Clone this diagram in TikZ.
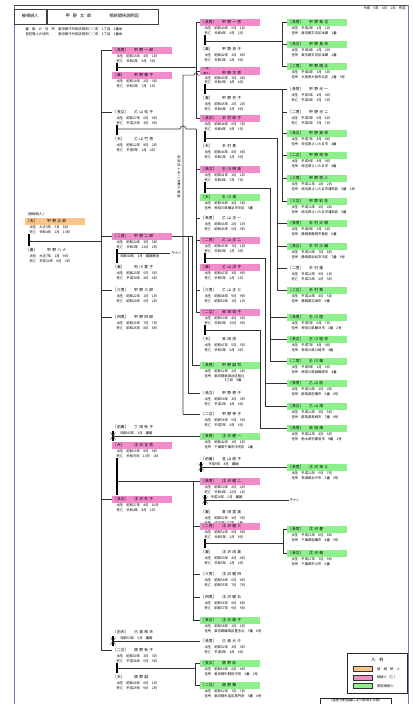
\documentclass[tikz,border=0pt]{standalone}
\usepackage{fontspec}
\setmainfont{Noto Sans CJK JP}
\usetikzlibrary{calc,positioning}
\definecolor{kzorange}{HTML}{F7C48A}
\definecolor{kzpink}{HTML}{F38BCB}
\definecolor{kzgreen}{HTML}{8DF08D}
\definecolor{kzframe}{HTML}{7474C6}
\newcommand{\kzfont}{\fontsize{3.8}{4.2}\selectfont\spaceskip=1.6pt\relax}
\newcommand{\kzsmall}{\fontsize{3.35}{4.5}\selectfont\spaceskip=3.2pt\relax}
\newcommand{\kztitlefont}{\fontsize{4.2}{5}\selectfont\spaceskip=3pt\relax}
\newcommand{\kzrole}[1]{\makebox[21pt][l]{#1}}
\tikzset{
  kzBar/.style={anchor=west, text width=58pt, minimum height=7pt, inner xsep=1pt, inner ysep=0pt, align=left, font=\kzfont},
  kzDetail/.style={anchor=north west, inner sep=0.3pt, align=left, font=\kzsmall},
  kzNote/.style={inner sep=0.3pt, font=\kzsmall},
  kzLine/.style={draw=black!80, line width=0.65pt},
  kzMarry/.style={draw=black, line width=1.5pt},
  kzTitle/.style={draw=black!75, line width=0.5pt, anchor=north west, minimum height=15pt, inner sep=1pt, font=\kztitlefont},
  kzSwatch/.style={draw=black!80, line width=0.5pt, minimum width=19pt, minimum height=5pt, inner sep=0pt, anchor=west}
}
\newcommand{\kzperson}[6]{%
  \node[kzBar, fill=#2] (#1) at (#3) {\kzrole{#4}#5};
  \node[kzDetail] (#1d) at ($(#1.south west)+(4,0.6)$) {#6};
}
\newcommand{\kzdivorce}[1]{%
  \draw[kzMarry] ($(#1)+(0,-5)$) -- ($(#1)+(0,5)$);
  \draw[kzLine, line width=0.45pt] ($(#1)+(-2.5,-3.5)$) -- ($(#1)+(2.5,3.5)$) ($(#1)+(-2.5,3.5)$) -- ($(#1)+(2.5,-3.5)$);
}

\begin{document}
\begin{tikzpicture}[x=1pt, y=-1pt]
  \useasboundingbox (0,0) rectangle (414,704);
  % frame and heading
  \draw[kzframe, line width=0.9pt] (14,708) -- (14,5) -- (408,5) -- (408,708);
  \draw[black!70, line width=0.6pt] (14,5) -- (408,5);
  \node[kzNote, anchor=east] (page) at (406,8.6) {令和 5年 4月 1日 作成};
  \node[kzTitle, minimum width=32pt] (ttlA) at (14,8.5) {被相続人};
  \node[kzTitle, minimum width=111pt] (ttlB) at (ttlA.north east) {甲 野 太 郎 \hspace{12pt} 相続関係説明図};
  \node[kzNote, anchor=west] (addrA) at (25,29.5) {\makebox[27pt][s]{最 後 の 住 所}\hspace{6pt}東京都千代田区神田○○町 1丁目 2番地};
  \node[kzNote, anchor=west] (addrB) at (25,34) {\makebox[27pt][s]{登記簿上の住所}\hspace{6pt}東京都千代田区神田○○町 1丁目 2番地};

  % trunks
  \coordinate (tA) at (101,0);
  \coordinate (tC1) at (196,0);
  \coordinate (tC3) at (193,0);
  \coordinate (tC4) at (195,0);
  \coordinate (tE1) at (183,0);
  \coordinate (tE2) at (188,0);
  \coordinate (tE3) at (192,0);
  \coordinate (tD1) at (282,0);
  \coordinate (tD3) at (277,0);
  \coordinate (tD4) at (270,0);
  \coordinate (tD5) at (265,0);
  \coordinate (tD6) at (260,0);
  \coordinate (tD7) at (283,0);
  % marriage points
  \coordinate (mA) at (29,241);
  \coordinate (mB1) at (117,67);
  \coordinate (mB2) at (117,129);
  \coordinate (mB3) at (117,253);
  \coordinate (mB7) at (117,481);
  \coordinate (mB9) at (117,668);
  \coordinate (mC1) at (205,41);
  \coordinate (mC2) at (205,89);
  \coordinate (mC3) at (205,138);
  \coordinate (mC4) at (205,188);
  \coordinate (mC6) at (205,258);
  \coordinate (mC8) at (205,330);
  \coordinate (mC15) at (205,543);
  \coordinate (xB6) at (113,436);
  \coordinate (xB8) at (113,641);
  \coordinate (xC13) at (201,467);
  \coordinate (xC14) at (205,500);

  % decedent
  \node[kzNote, anchor=west] (hLabel) at (25,214.5) {［被相続人］};
  \kzperson{a}{kzorange}{25,221}{［夫］}{甲 野 太 郎}{出生 大正3年 5月 8日\\死亡 令和4年 2月 10日}
  \kzperson{as}{none}{25,250}{［妻］}{甲 野 ハ ナ}{出生 大正7年 1月 9日\\死亡 平成20年 6月 3日}

  % children
  \kzperson{b1}{kzpink}{112,50}{［長男］}{甲 野 一 郎}{出生 昭和15年 4月 1日\\死亡 令和2年 9月 5日}
  \kzperson{b1s}{kzpink}{112,75}{［妻］}{甲 野 春 子}{出生 昭和18年 2月 3日\\死亡 令和3年 7月 1日}
  \kzperson{b2}{none}{112,112}{［長女］}{乙 山 松 子}{出生 昭和17年 6月 6日\\死亡 平成25年 3月 9日}
  \kzperson{b2s}{none}{112,139}{［夫］}{乙 山 竹 男}{出生 昭和12年 8月 2日\\死亡 平成9年 1月 4日}
  \kzperson{b3}{kzpink}{112,236}{［二男］}{甲 野 二 郎}{出生 昭和20年 3月 3日\\死亡 令和3年 11月 2日}
  \kzperson{b3s}{none}{112,267}{［妻］}{丙 川 夏 子}{出生 昭和23年 5月 5日\\死亡 平成30年 4月 4日}
  \kzperson{b4}{none}{112,290}{［三男］}{甲 野 三 郎}{出生 昭和22年 1月 1日\\死亡 昭和24年 2月 2日}
  \kzperson{b5}{none}{112,317}{［四男］}{甲 野 四 郎}{出生 昭和25年 7月 7日\\死亡 昭和26年 8月 8日}
  \node[kzBar] (b6p) at (112,427) {\kzrole{［前妻］}丁 田 秋 子};
  \kzperson{b6}{kzpink}{112,445}{［夫］}{戊 沢 正 男}{出生 昭和19年 9月 9日\\死亡 令和元年 10月 1日}
  \kzperson{b7}{kzpink}{112,499}{［長女］}{戊 沢 冬 子}{出生 昭和27年 4月 10日\\死亡 令和4年 8月 1日}
  \node[kzBar] (b8p) at (112,632) {\kzrole{［前夫］}己 島 和 夫};
  \kzperson{b9}{none}{112,650}{［二女］}{庚 野 秋 子}{出生 昭和30年 3月 3日\\死亡 平成28年 5月 5日}
  \kzperson{b9s}{none}{112,677}{［夫］}{庚 野 誠}{出生 昭和28年 6月 1日\\死亡 平成29年 9月 2日}

  % grandchildren
  \kzperson{c1}{kzpink}{200,22}{［長男］}{甲 野 一 男}{出生 昭和40年 5月 1日\\死亡 令和4年 6月 2日}
  \kzperson{c1s}{none}{200,49}{［妻］}{甲 野 良 子}{出生 昭和42年 1月 8日\\死亡 令和3年 2月 9日}
  \kzperson{c2}{kzpink}{200,71}{{\fontsize{2.5}{2.8}\selectfont\shortstack[l]{［二男］\\［養子］}}}{甲 野 次 男}{出生 昭和43年 3月 4日\\死亡 令和4年 4月 4日}
  \kzperson{c2s}{none}{200,98}{［妻］}{甲 野 京 子}{出生 昭和45年 2月 2日\\死亡 令和4年 5月 6日}
  \kzperson{c3}{kzpink}{200,118}{［長女］}{辛 村 和 子}{出生 昭和46年 6月 7日\\死亡 令和4年 9月 1日}
  \kzperson{c3s}{none}{200,146}{［夫］}{辛 村 勇}{出生 昭和44年 8月 8日\\死亡 令和2年 3月 3日}
  \kzperson{c4}{kzpink}{200,169}{［長女］}{壬 川 明 美}{出生 昭和41年 1月 2日\\死亡 令和4年 7月 7日}
  \kzperson{c4s}{kzgreen}{200,197}{［夫］}{壬 川 清}{出生 昭和38年 4月 5日\\住所 神奈川県横浜市中区 3番}
  \kzperson{c5}{none}{200,218}{［長男］}{乙 山 正 一}{出生 昭和43年 2月 1日\\死亡 昭和45年 5月 5日}
  \kzperson{c6}{kzpink}{200,240}{［二男］}{乙 山 正 二}{出生 昭和45年 7月 1日\\死亡 令和4年 1月 3日}
  \kzperson{c6s}{kzpink}{200,267}{［妻］}{乙 山 洋 子}{出生 昭和47年 3月 9日\\死亡 令和5年 2月 1日}
  \kzperson{c7}{none}{200,290}{［三男］}{乙 山 正 三}{出生 昭和48年 9月 9日\\死亡 昭和50年 1月 1日}
  \kzperson{c8}{kzpink}{200,312}{［二女］}{癸 田 信 子}{出生 昭和50年 4月 4日\\死亡 令和4年 10月 9日}
  \kzperson{c8s}{none}{200,339}{［夫］}{癸 田 茂}{出生 昭和47年 5月 5日\\死亡 令和3年 6月 6日}
  \kzperson{c9}{kzgreen}{200,365}{［長男］}{甲 野 誠 司}{出生 昭和52年 2月 2日\\住所 東京都世田谷区桜丘\\\hspace{20pt}3丁目 5番}
  \kzperson{c10}{none}{200,393}{［長女］}{甲 野 恵 子}{出生 昭和54年 3月 3日\\死亡 平成2年 4月 4日}
  \kzperson{c11}{none}{200,414}{［二女］}{甲 野 幸 子}{出生 昭和56年 5月 5日\\死亡 平成5年 6月 6日}
  \kzperson{c12}{kzgreen}{200,436}{［長男］}{戊 沢 健 一}{出生 昭和42年 1月 1日\\住所 千葉県千葉市中央区 2番}
  \node[kzBar] (c13) at (200,459) {\kzrole{［前妻］}丑 山 直 子};
  \kzperson{c14}{kzpink}{200,481}{［長男］}{戊 沢 健 二}{出生 昭和50年 2月 2日\\死亡 令和4年 12月 1日}
  \kzperson{c14s}{none}{200,512}{［妻］}{寅 田 里 美}{出生 昭和52年 3月 3日\\住所 埼玉県川口市 1番}
  \kzperson{c15}{kzpink}{200,526}{［二男］}{戊 沢 健 三}{出生 昭和52年 9月 9日\\死亡 令和5年 1月 8日}
  \kzperson{c15s}{none}{200,552}{［妻］}{戊 沢 由 美}{出生 昭和53年 4月 4日\\死亡 令和5年 2月 2日}
  \kzperson{c16}{none}{200,574}{［三男］}{戊 沢 健 四}{出生 昭和54年 6月 6日\\死亡 昭和55年 7月 7日}
  \kzperson{c17}{none}{200,597}{［四男］}{戊 沢 健 五}{出生 昭和56年 8月 8日\\死亡 昭和57年 9月 9日}
  \kzperson{c18}{kzgreen}{200,620}{［長女］}{戊 沢 綾 子}{出生 昭和58年 1月 1日\\住所 東京都練馬区豊玉北 7番 8号}
  \kzperson{c19}{none}{200,641}{［長男］}{己 島 大 介}{出生 昭和52年 3月 3日\\死亡 平成8年 4月 4日}
  \kzperson{c20}{kzgreen}{200,663}{［長女］}{庚 野 彩}{出生 昭和60年 6月 6日\\住所 東京都中野区中央 1番 2号}
  \kzperson{c21}{kzgreen}{200,685}{［二女］}{庚 野 舞}{出生 昭和62年 7月 7日\\住所 東京都杉並区高円寺 3番 4号}

  % great-grandchildren
  \kzperson{d1}{kzgreen}{287,22}{［長男］}{甲 野 拓 也}{出生 平成2年 1月 1日\\住所 東京都文京区本郷 1番}
  \kzperson{d2}{kzgreen}{287,44}{［長女］}{甲 野 真 央}{出生 平成4年 2月 2日\\住所 東京都文京区本郷 1番}
  \kzperson{d3}{kzgreen}{287,66}{［二男］}{甲 野 翔 太}{出生 平成6年 3月 3日\\住所 大阪府大阪市北区 2番 3号}
  \kzperson{d4}{none}{287,89}{［長男］}{甲 野 光 一}{出生 平成3年 4月 4日\\死亡 平成4年 5月 5日}
  \kzperson{d5}{none}{287,112}{［二男］}{甲 野 光 二}{出生 平成5年 6月 6日\\死亡 平成6年 7月 7日}
  \kzperson{d6}{kzgreen}{287,133}{［長女］}{甲 野 美 咲}{出生 平成7年 8月 8日\\住所 埼玉県さいたま市 4番}
  \kzperson{d7}{kzgreen}{287,155}{［二女］}{甲 野 玲 奈}{出生 平成9年 9月 9日\\住所 埼玉県さいたま市 4番}
  \kzperson{d8}{kzgreen}{287,178}{［三男］}{甲 野 悠 人}{出生 平成11年 1月 2日\\住所 埼玉県さいたま市浦和区 5番 1号}
  \kzperson{d9}{kzgreen}{287,201}{［三女］}{甲 野 彩 花}{出生 平成13年 3月 4日\\住所 埼玉県さいたま市浦和区 5番}
  \kzperson{d10}{kzgreen}{287,223}{［長男］}{辛 村 大 樹}{出生 平成8年 5月 6日\\住所 静岡県静岡市葵区 6番}
  \kzperson{d11}{kzgreen}{287,246}{［長女］}{辛 村 沙 織}{出生 平成10年 7月 8日\\住所 静岡県浜松市中区 7番 8号}
  \kzperson{d12}{none}{287,268}{［二男］}{辛 村 蓮}{出生 平成12年 9月 1日\\死亡 平成13年 2月 3日}
  \kzperson{d13}{kzgreen}{287,290}{［二女］}{辛 村 葵}{出生 平成14年 4月 5日\\住所 静岡県沼津市 9番}
  \kzperson{d14}{kzgreen}{287,317}{［長男］}{壬 川 陸}{出生 平成5年 6月 7日\\住所 神奈川県藤沢市 1番 2号}
  \kzperson{d15}{kzgreen}{287,339}{［長女］}{壬 川 結 衣}{出生 平成7年 8月 9日\\住所 神奈川県川崎市 3番}
  \kzperson{d16}{kzgreen}{287,361}{［二男］}{壬 川 颯}{出生 平成9年 1月 3日\\住所 神奈川県相模原市 4番}
  \kzperson{d17}{kzgreen}{287,383}{［長男］}{乙 山 航}{出生 平成10年 2月 4日\\住所 群馬県前橋市 5番 6号}
  \kzperson{d18}{kzgreen}{287,406}{［長女］}{乙 山 凛}{出生 平成12年 3月 5日\\住所 群馬県高崎市 7番 8号}
  \kzperson{d19}{kzgreen}{287,428}{［長男］}{癸 田 湊}{出生 平成11年 4月 6日\\住所 栃木県宇都宮市 9番 1号}
  \kzperson{d20}{kzgreen}{287,467}{［長男］}{戊 沢 海 斗}{出生 平成12年 5月 7日\\住所 茨城県水戸市 2番 3号}
  \node[kzNote, anchor=west] (d14x) at (289,500) {子ナシ};
  \kzperson{d21}{kzgreen}{287,529}{［長男］}{戊 沢 蒼}{出生 平成15年 6月 8日\\住所 千葉県船橋市 4番 5号}
  \kzperson{d22}{kzgreen}{287,553}{［長女］}{戊 沢 楓}{出生 平成17年 7月 9日\\住所 千葉県市川市 6番}

  % decedent couple and trunk
  \draw[kzMarry] (ad.south -| mA) -- (as.north -| mA);
  \draw[kzLine] (mA) -- (mA -| tA);
  \draw[kzLine] (tA |- b1.west) -- (tA |- b9.west);
  \foreach \n in {b1,b2,b3,b4,b5,b7,b9}
    \draw[kzLine] (\n.west -| tA) -- (\n.west);

  % couples of the children
  \draw[kzMarry] (b1d.south -| mB1) -- (b1s.north -| mB1);
  \draw[kzLine] (mB1) -- (mB1 -| tC1);
  \draw[kzMarry] (b2d.south -| mB2) -- (b2s.north -| mB2);
  \draw[kzLine] (mB2) -- ($(tE1 |- mB2)+(-3,0)$) arc[start angle=180, end angle=360, radius=3] -- (mB2 -| tC1);
  \draw[kzMarry] (b3d.south -| mB3) -- (b3s.north -| mB3);
  \draw[kzLine] (mB3) -- ++(53,0);
  \node[kzNote, anchor=west] (b3x) at (171,253) {子ナシ};
  \node[kzNote, anchor=north west] (b3t) at (120,254.5) {昭和48年 3月 婚姻解消};
  \draw[kzMarry] (b6d.south -| mB7) -- (b7.north -| mB7);
  \draw[kzLine] (mB7) -- (mB7 -| tC3);
  \kzdivorce{xB6}
  \draw[kzLine] (xB6) -- (c12.west);
  \node[kzNote, anchor=south west] (b6t) at (120,435) {昭和45年 3月 離婚};
  \kzdivorce{xB8}
  \draw[kzLine] (xB8) -- (c19.west);
  \node[kzNote, anchor=south west] (b8t) at (120,640) {昭和53年 5月 離婚};
  \draw[kzMarry] (b9d.south -| mB9) -- (b9s.north -| mB9);
  \draw[kzLine] (mB9) -- (mB9 -| tC4);

  % grandchild lines
  \draw[kzLine] (tC1 |- c1.west) -- (tC1 |- c3.west);
  \draw[kzLine] (tC1 |- mB2) -- (tC1 |- c8.west);
  \foreach \n in {c1,c2,c3,c4,c5,c6,c7,c8}
    \draw[kzLine] (\n.west -| tC1) -- (\n.west);
  % adoption and the second son's children
  \draw[kzLine] (b3.east) -- (b3.east -| tE3);
  \draw[kzLine] (tE1 |- c11.west) -- (tE1 |- c2.south west) -- ($(c2.south west)+(-6,0)$) arc[start angle=180, end angle=360, radius=2] -- (c2.south west);
  \draw[kzLine] (c11.west -| tE1) -- (c11.west);
  \draw[kzLine] (tE2 |- b3.east) |- (c10.west);
  \draw[kzLine] (tE3 |- b3.east) |- (c9.west);
  \node[kzNote, align=center, font=\fontsize{3.2}{3.9}\selectfont] (adoptNote) at (179,177) {昭\\和\\四\\十\\年\\二\\月\\養\\子\\縁\\組};
  % lower families
  \draw[kzLine] (tC3 |- mB7) -- (tC3 |- c18.west);
  \foreach \n in {c15,c16,c17,c18}
    \draw[kzLine] (\n.west -| tC3) -- (\n.west);
  \draw[kzLine] (mB7 -| tC3) -- (c14.west);
  \draw[kzLine] (tC4 |- c20.west) -- (tC4 |- c21.west);
  \foreach \n in {c20,c21}
    \draw[kzLine] (\n.west -| tC4) -- (\n.west);

  % great-grandchild lines
  \draw[kzMarry] (c1d.south -| mC1) -- (c1s.north -| mC1);
  \draw[kzLine] (mC1) -- (mC1 -| tD1);
  \draw[kzLine] (tD1 |- d1.west) -- (tD1 |- d3.west);
  \draw[kzMarry] (c2d.south -| mC2) -- (c2s.north -| mC2);
  \draw[kzLine] (mC2) -- (mC2 -| tD1) -- (tD1 |- d9.west);
  \foreach \n in {d1,d2,d3,d4,d5,d6,d7,d8,d9}
    \draw[kzLine] (\n.west -| tD1) -- (\n.west);
  \draw[kzMarry] (c3d.south -| mC3) -- (c3s.north -| mC3);
  \draw[kzLine] (mC3) -| (tD3 |- d13.west);
  \foreach \n in {d10,d11,d12,d13}
    \draw[kzLine] (\n.west -| tD3) -- (\n.west);
  \draw[kzMarry] (c4d.south -| mC4) -- (c4s.north -| mC4);
  \draw[kzLine] (mC4) -| (tD4 |- d16.west);
  \foreach \n in {d14,d15,d16}
    \draw[kzLine] (\n.west -| tD4) -- (\n.west);
  \draw[kzMarry] (c6d.south -| mC6) -- (c6s.north -| mC6);
  \draw[kzLine] (mC6) -| (tD5 |- d18.west);
  \foreach \n in {d17,d18}
    \draw[kzLine] (\n.west -| tD5) -- (\n.west);
  \draw[kzMarry] (c8d.south -| mC8) -- (c8s.north -| mC8);
  \draw[kzLine] (mC8) -- (mC8 -| tD6) |- (d19.west);
  \kzdivorce{xC13}
  \draw[kzLine] (xC13) -- (d20.west);
  \node[kzNote, anchor=south west] (c13t) at (208,466) {平成9年 8月 離婚};
  \kzdivorce{xC14}
  \draw[kzLine] (xC14) -- (d14x.west);
  \node[kzNote, anchor=south west] (c14t) at (210,499) {平成20年 2月 離婚};
  \draw[kzMarry] (c15d.south -| mC15) -- (c15s.north -| mC15);
  \draw[kzLine] (mC15) -- (mC15 -| tD7);
  \draw[kzLine] (tD7 |- d21.west) -- (tD7 |- d22.west);
  \foreach \n in {d21,d22}
    \draw[kzLine] (\n.west -| tD7) -- (\n.west);

  % legend
  \node[draw=black!85, line width=0.6pt, anchor=north west, minimum width=60pt, minimum height=40pt] (legend) at (347,653) {};
  \node[font=\fontsize{4}{5}\selectfont, inner sep=0.5pt] (legendTitle) at ($(legend.north)+(0,6.5)$) {凡　例};
  \node[kzSwatch, fill=kzorange] (swA) at (353,669) {};
  \node[kzNote, right=4pt of swA] (swAt) {被 相 続 人};
  \node[kzSwatch, fill=kzpink] (swB) at (353,677.5) {};
  \node[kzNote, right=4pt of swB] (swBt) {相続人（亡）};
  \node[kzSwatch, fill=kzgreen] (swC) at (353,686) {};
  \node[kzNote, right=4pt of swC] (swCt) {現存相続人};
  \node[draw=black!85, line width=0.6pt, anchor=north west, minimum width=71pt, minimum height=12pt] (memo) at (320,697.5) {};
  \node[kzNote] (memoText) at ($(memo.north)+(0,3)$) {（遺産分割協議により取得する者）};
\end{tikzpicture}
\end{document}
